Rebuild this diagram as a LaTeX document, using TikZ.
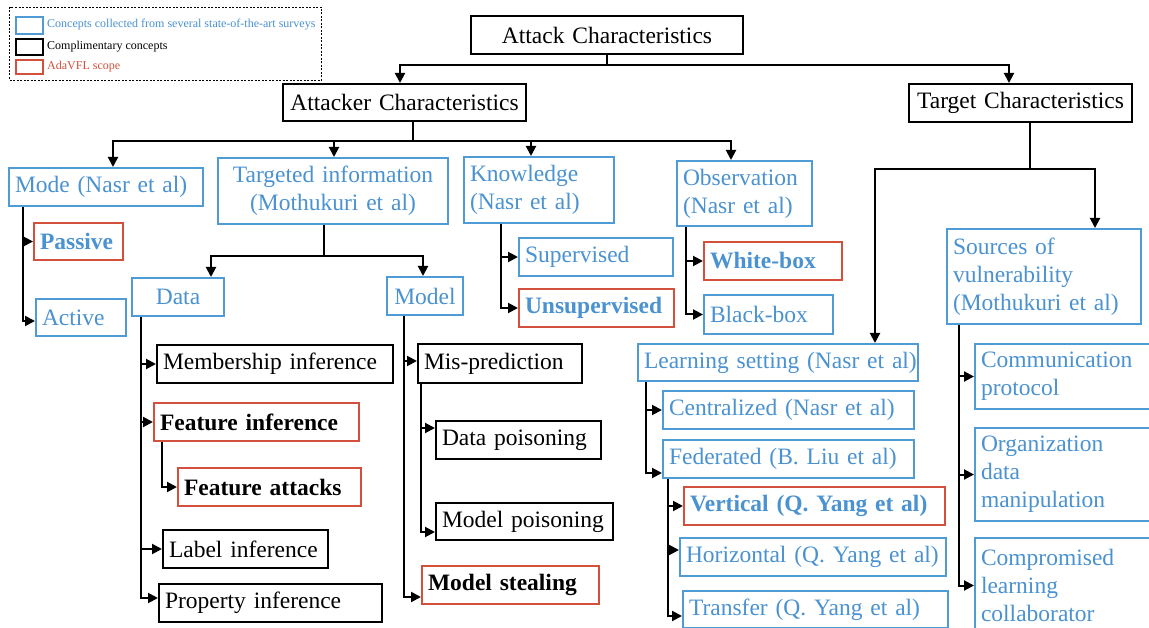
\documentclass[tikz,border=0pt]{standalone}
\usepackage{fontspec}
\setmainfont{Liberation Serif}
\usetikzlibrary{arrows.meta,calc}

\definecolor{surveyblue}{RGB}{79,155,214}
\definecolor{surveytext}{RGB}{74,146,208}
\definecolor{scopered}{RGB}{210,80,60}

% box: style, name, left x, top y, width, height, alignment, text
\newcommand\bx[8]{%
  \pgfmathsetmacro\bxtw{#5-12}%
  \node[#1, anchor=north west, minimum width=#5pt, minimum height=#6pt,
        text width=\bxtw pt, align=#7] (#2) at (#3,#4) {#8};}

\begin{document}
\begin{tikzpicture}[x=1pt, y=-1pt,
  box/.style={draw, line width=2pt, inner xsep=6pt, inner ysep=0pt,
              font=\fontsize{23.5}{28}\selectfont,
              execute at begin node={\hyphenpenalty=10000\exhyphenpenalty=10000\relax}},
  blk/.style={box, draw=black, text=black},
  blu/.style={box, draw=surveyblue, text=surveytext},
  redb/.style={box, draw=scopered, text=surveytext,
               font=\fontsize{23.5}{28}\selectfont\bfseries},
  redk/.style={box, draw=scopered, text=black,
               font=\fontsize{23.5}{28}\selectfont\bfseries},
  line/.style={line width=2pt, draw=black},
  conn/.style={line, -{Triangle[length=10pt,width=10pt]}},
  key/.style={line width=1.6pt, anchor=north west, inner sep=0pt,
              minimum width=27pt},
  keytext/.style={anchor=west, inner sep=0pt, font=\fontsize{12}{14}\selectfont}]

\path[use as bounding box] (0,0) rectangle (1149,628);
\clip (0,0) rectangle (1149,628);
\fill[white] (0,0) rectangle (1149,628);

% legend
\node[draw, line width=1pt, dash pattern=on 2pt off 1.5pt, anchor=north west,
      minimum width=312pt, minimum height=73pt, inner sep=0pt] (legend) at (9,7) {};
\node[key, draw=surveyblue, minimum height=17pt] (keyS) at (15,16) {};
\node[key, draw=black, minimum height=16pt] (keyC) at (15,38) {};
\node[key, draw=scopered, minimum height=14pt] (keyA) at (15,59) {};
\node[keytext, text=surveytext] (keySt) at (47,24.5) {Concepts collected from several state-of-the-art surveys};
\node[keytext, text=black] (keyCt) at (47,46.5) {Complimentary concepts};
\node[keytext, text=scopered] (keyAt) at (47,66.5) {AdaVFL scope};

% top levels
\bx{blk}{attack}{470}{15}{272}{38}{center}{Attack Characteristics}
\bx{blk}{attacker}{282}{83}{243}{37}{center}{Attacker~Characteristics}
\bx{blk}{target}{908}{83}{223}{38}{center}{Target~Characteristics}

% attacker characteristics
\bx{blu}{mode}{8}{167}{194}{38}{left}{Mode (Nasr et al)}
\bx{blu}{targeted}{217}{157}{230}{66}{center}{Targeted information\\(Mothukuri et al)}
\bx{blu}{know}{463}{156}{150}{66}{left}{Knowledge\\(Nasr et al)}
\bx{blu}{obs}{676}{160}{135}{65}{left}{Observation\\(Nasr et al)}

\bx{redb}{passive}{33}{222}{89}{37}{left}{Passive}
\bx{blu}{active}{35}{298}{90}{37}{left}{Active}

\bx{blu}{data}{131}{277}{92}{38}{center}{Data}
\bx{blu}{model}{386}{276}{76}{38}{center}{Model}

\bx{blk}{member}{156}{344}{236}{38}{left}{Membership inference}
\bx{redk}{featinf}{153}{402}{205}{38}{left}{Feature inference}
\bx{redk}{featatt}{177}{467}{183}{38}{left}{Feature attacks}
\bx{blk}{labelinf}{162}{529}{165}{38}{left}{Label inference}
\bx{blk}{propinf}{158}{583}{223}{38}{left}{Property inference}

\bx{blk}{mispred}{417}{343}{164}{39}{left}{Mis-prediction}
\bx{blk}{datapois}{435}{420}{165}{38}{left}{Data poisoning}
\bx{blk}{modelpois}{435}{502}{177}{37}{left}{Model poisoning}
\bx{redk}{steal}{421}{565}{177}{38}{left}{Model stealing}

\bx{blu}{superv}{518}{237}{154}{38}{left}{Supervised}
\bx{redb}{unsup}{518}{288}{155}{38}{left}{Unsupervised}

\bx{redb}{white}{703}{241}{138}{38}{left}{White-box}
\bx{blu}{blackbox}{703}{294}{129}{39}{left}{Black-box}

% target characteristics
\bx{blu}{learn}{637}{343}{280}{37}{left}{Learning~setting~(Nasr~et~al)}
\bx{blu}{central}{662}{390}{251}{38}{left}{Centralized (Nasr et al)}
\bx{blu}{fed}{662}{439}{251}{38}{left}{Federated (B. Liu et al)}
\bx{redb}{vert}{683}{486}{261}{38}{left}{Vertical (Q. Yang et al)}
\bx{blu}{horiz}{679}{537}{266}{38}{left}{Horizontal (Q. Yang et al)}
\bx{blu}{transfer}{682}{590}{265}{37}{left}{Transfer (Q. Yang et al)}

\bx{blu}{sources}{946}{228}{194}{95}{left}{Sources of\\vulnerability\\(Mothukuri et al)}
\bx{blu}{comm}{974}{343}{190}{65}{left}{Communication\\protocol}
\bx{blu}{org}{974}{427}{190}{93}{left}{Organization\\data\\manipulation}
\bx{blu}{comp}{974}{537}{190}{95}{left}{Compromised\\learning\\collaborator}

% first split
\coordinate (jTop) at ($(attack.south)+(0,10)$);
\draw[conn] (attack.south) -- (jTop) -| ([xshift=-4.5pt]attacker.north);
\draw[conn] (jTop) -| ([xshift=-11.5pt]target.north);

% attacker characteristics split
\coordinate (jA) at ($(attacker.south)+(8.5,19)$);
\draw[line] (attacker.south -| jA) -- (jA);
\draw[conn] (jA) -| ([xshift=7pt]mode.north);
\draw[conn] (jA) -| ([xshift=1pt]targeted.north);
\draw[conn] (jA) -| ([xshift=-8pt]know.north);
\draw[conn] (jA) -| ([xshift=-13.5pt]obs.north);

% target characteristics split
\coordinate (jT) at ($(target.south)+(9.5,46)$);
\draw[line] (target.south -| jT) -- (jT);
\draw[conn] (jT) -| ([xshift=97pt]learn.north);
\draw[conn] (jT) -| ([xshift=51pt]sources.north);

% targeted information split
\coordinate (jD) at ($(targeted.south)+(-9,31)$);
\draw[line] (targeted.south -| jD) -- (jD);
\draw[conn] (jD) -| ([xshift=33pt]data.north);
\draw[conn] (jD) -| ([xshift=-2pt]model.north);

% mode
\coordinate (modeT) at ([xshift=15pt]mode.south west);
\coordinate (activeIn) at ([yshift=-3.5pt]active.west);
\draw[conn] (modeT |- passive.west) -- (passive.west);
\draw[conn] (modeT) |- (activeIn);

% data
\coordinate (dataT) at ([xshift=10pt]data.south west);
\coordinate (propIn) at ([yshift=5pt]propinf.west);
\draw[conn] (dataT |- member.west) -- (member.west);
\draw[conn] (dataT |- featinf.west) -- (featinf.west);
\draw[conn] (dataT |- labelinf.west) -- (labelinf.west);
\draw[conn] (dataT) |- (propIn);
\coordinate (featT) at ([xshift=9pt]featinf.south west);
\draw[conn] (featT) |- (featatt.west);

% model
\coordinate (modelT) at ([xshift=18pt]model.south west);
\coordinate (mispredIn) at ([yshift=2.5pt]mispred.west);
\coordinate (stealIn) at ([yshift=-12pt]steal.west);
\draw[conn] (modelT |- mispredIn) -- (mispredIn);
\draw[conn] (modelT) |- (stealIn);
\coordinate (misT) at ([xshift=3.5pt]mispred.south west);
\coordinate (dpIn) at ([yshift=12pt]datapois.west);
\coordinate (mpIn) at ([yshift=-10.5pt]modelpois.west);
\draw[conn] (misT |- dpIn) -- (dpIn);
\draw[conn] (misT) |- (mpIn);

% knowledge
\coordinate (knowT) at ([xshift=38pt]know.south west);
\draw[conn] (knowT |- superv.west) -- (superv.west);
\draw[conn] (knowT) |- (unsup.west);

% observation
\coordinate (obsT) at ([xshift=10pt]obs.south west);
\draw[conn] (obsT |- white.west) -- (white.west);
\draw[conn] (obsT) |- (blackbox.west);

% learning setting
\coordinate (learnT) at ([xshift=9pt]learn.south west);
\coordinate (fedIn) at ([yshift=-14pt]fed.west);
\draw[conn] (learnT |- central.west) -- (central.west);
\draw[conn] (learnT) |- (fedIn);
\coordinate (fedT) at ([xshift=6pt]fed.south west);
\coordinate (horizIn) at ([yshift=7pt]horiz.west);
\coordinate (transIn) at ([yshift=-6.5pt]transfer.west);
\draw[conn] (fedT |- vert.west) -- (vert.west);
\draw[conn] (fedT |- horizIn) -- (horizIn);
\draw[conn] (fedT) |- (transIn);

% sources of vulnerability
\coordinate (srcT) at ([xshift=13pt]sources.south west);
\draw[conn] (srcT |- comm.west) -- (comm.west);
\draw[conn] (srcT |- org.west) -- (org.west);
\draw[conn] (srcT) |- (comp.west);

\end{tikzpicture}
\end{document}
